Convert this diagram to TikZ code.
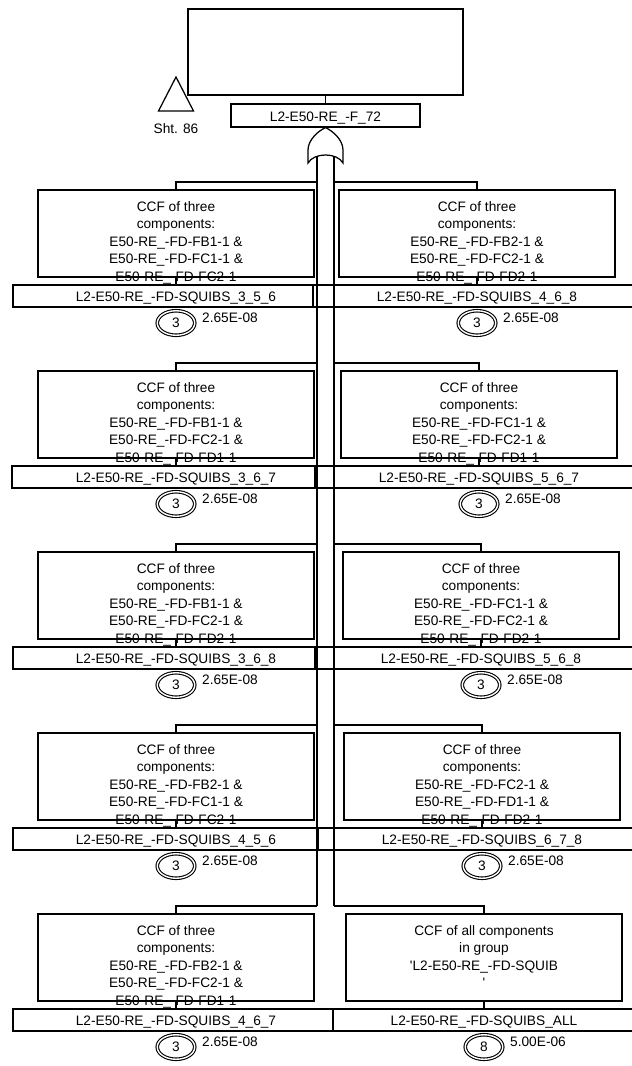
\documentclass[tikz,border=0pt]{standalone}
\usepackage{fontspec}
\setmainfont{Liberation Sans}
\usetikzlibrary{shapes.geometric}
\newcommand{\evblock}[9]{%
  % #1 name, #2 column centre x, #3 row connector y, #4 label left, #5 label right,
  % #6 box text, #7 label text, #8 transfer number, #9 probability
  \node[ccfbox] (#1box) at (#2,#3+51.5) {};
  \node[ccftext] (#1txt) at (#2,#3+19) {#6};
  \node[lblbox, minimum width={#5-#4}] (#1lbl) at ({(#4+#5)/2},#3+114) {};
  \node[lbltext] (#1lt) at (#2,#3+119.5) {#7};
  \node[xfer] (#1x) at (#2,#3+141) {#8};
  \node[prob] (#1p) at (#2+26,#3+140) {#9};
  \draw[ln] (#1box.south) -- (#1box.south |- #1lbl.north);
}
\begin{document}
\begin{tikzpicture}[x=1pt,y=-1pt,
  every node/.style={font=\fontsize{13.7}{17.5}\selectfont},
  ln/.style={line width=1.25pt},
  ccfbox/.style={draw, line width=1.25pt, minimum width=276, minimum height=87, inner sep=0},
  ccftext/.style={anchor=north, inner sep=0, align=center},
  lblbox/.style={draw, line width=1.25pt, minimum height=22, inner sep=0},
  lbltext/.style={anchor=base, inner sep=0},
  xfer/.style={ellipse, draw, line width=1.1pt, double, double distance=1.4pt, minimum width=37.5, minimum height=24.5, inner sep=0},
  prob/.style={anchor=base west, inner sep=0}]
\path[use as bounding box] (0,0) rectangle (632,1066);
\clip (0,0) rectangle (632,1066);

% top event
\node[draw, line width=1.25pt, minimum width=275, minimum height=86, inner sep=0] (top) at (325.5,52) {};
\node[draw, line width=1.25pt, minimum width=189, minimum height=23, inner sep=0] (toplbl) at (325.5,115.5) {};
\node[lbltext] (toplt) at (325.5,121) {L2-E50-RE\_-F\_72};
\draw[ln] (top.south) -- (toplbl.north);

% transfer triangle
\draw[ln] (176,77) -- (193.5,111) -- (158.5,111) -- cycle;
\node[anchor=base, inner sep=0] (sht) at (176,133) {Sht. 86};

% OR gate
\draw[ln] (308,163) -- (308,150) .. controls (308,140) and (318,131) .. (toplbl.south)
  .. controls (333,131) and (343,140) .. (343,150) -- (343,163)
  .. controls (337,152.3) and (314,152.3) .. cycle;
\coordinate (gL) at (317,156);
\coordinate (gR) at (334,156);

% rows
\evblock{aL}{176}{182}{13}{313}{CCF of three\\components:\\E50-RE\_-FD-FB1-1 \&\\E50-RE\_-FD-FC1-1 \&\\E50-RE\_-FD-FC2-1}{L2-E50-RE\_-FD-SQUIBS\_3\_5\_6}{3}{2.65E-08}
\evblock{aR}{477}{182}{313}{640}{CCF of three\\components:\\E50-RE\_-FD-FB2-1 \&\\E50-RE\_-FD-FC2-1 \&\\E50-RE\_-FD-FD2-1}{L2-E50-RE\_-FD-SQUIBS\_4\_6\_8}{3}{2.65E-08}

\evblock{bL}{176}{363}{12}{315}{CCF of three\\components:\\E50-RE\_-FD-FB1-1 \&\\E50-RE\_-FD-FC2-1 \&\\E50-RE\_-FD-FD1-1}{L2-E50-RE\_-FD-SQUIBS\_3\_6\_7}{3}{2.65E-08}
\evblock{bR}{479}{363}{315}{640}{CCF of three\\components:\\E50-RE\_-FD-FC1-1 \&\\E50-RE\_-FD-FC2-1 \&\\E50-RE\_-FD-FD1-1}{L2-E50-RE\_-FD-SQUIBS\_5\_6\_7}{3}{2.65E-08}

\evblock{cL}{176}{544}{13}{315}{CCF of three\\components:\\E50-RE\_-FD-FB1-1 \&\\E50-RE\_-FD-FC2-1 \&\\E50-RE\_-FD-FD2-1}{L2-E50-RE\_-FD-SQUIBS\_3\_6\_8}{3}{2.65E-08}
\evblock{cR}{481}{544}{315}{640}{CCF of three\\components:\\E50-RE\_-FD-FC1-1 \&\\E50-RE\_-FD-FC2-1 \&\\E50-RE\_-FD-FD2-1}{L2-E50-RE\_-FD-SQUIBS\_5\_6\_8}{3}{2.65E-08}

\evblock{dL}{176}{725}{13}{318}{CCF of three\\components:\\E50-RE\_-FD-FB2-1 \&\\E50-RE\_-FD-FC1-1 \&\\E50-RE\_-FD-FC2-1}{L2-E50-RE\_-FD-SQUIBS\_4\_5\_6}{3}{2.65E-08}
\evblock{dR}{482}{725}{318}{640}{CCF of three\\components:\\E50-RE\_-FD-FC2-1 \&\\E50-RE\_-FD-FD1-1 \&\\E50-RE\_-FD-FD2-1}{L2-E50-RE\_-FD-SQUIBS\_6\_7\_8}{3}{2.65E-08}

\evblock{eL}{176}{906}{13}{333}{CCF of three\\components:\\E50-RE\_-FD-FB2-1 \&\\E50-RE\_-FD-FC2-1 \&\\E50-RE\_-FD-FD1-1}{L2-E50-RE\_-FD-SQUIBS\_4\_6\_7}{3}{2.65E-08}
\evblock{eR}{484}{906}{333}{640}{CCF of all components\\in group\\\textquotesingle L2-E50-RE\_-FD-SQUIB\\\textquotesingle}{L2-E50-RE\_-FD-SQUIBS\_ALL}{8}{5.00E-06}

% bus junctions
\foreach \n/\y in {a/182,b/363,c/544,d/725,e/906}{
  \coordinate (\n jL) at (317,\y);
  \coordinate (\n jR) at (334,\y);
}
\draw[ln] (gL) -- (ejL);
\draw[ln] (gR) -- (ejR);
\foreach \n in {a,b,c,d,e}{
  \draw[ln] (\n jL) -| (\n Lbox.north);
  \draw[ln] (\n jR) -| (\n Rbox.north);
}
\end{tikzpicture}
\end{document}
